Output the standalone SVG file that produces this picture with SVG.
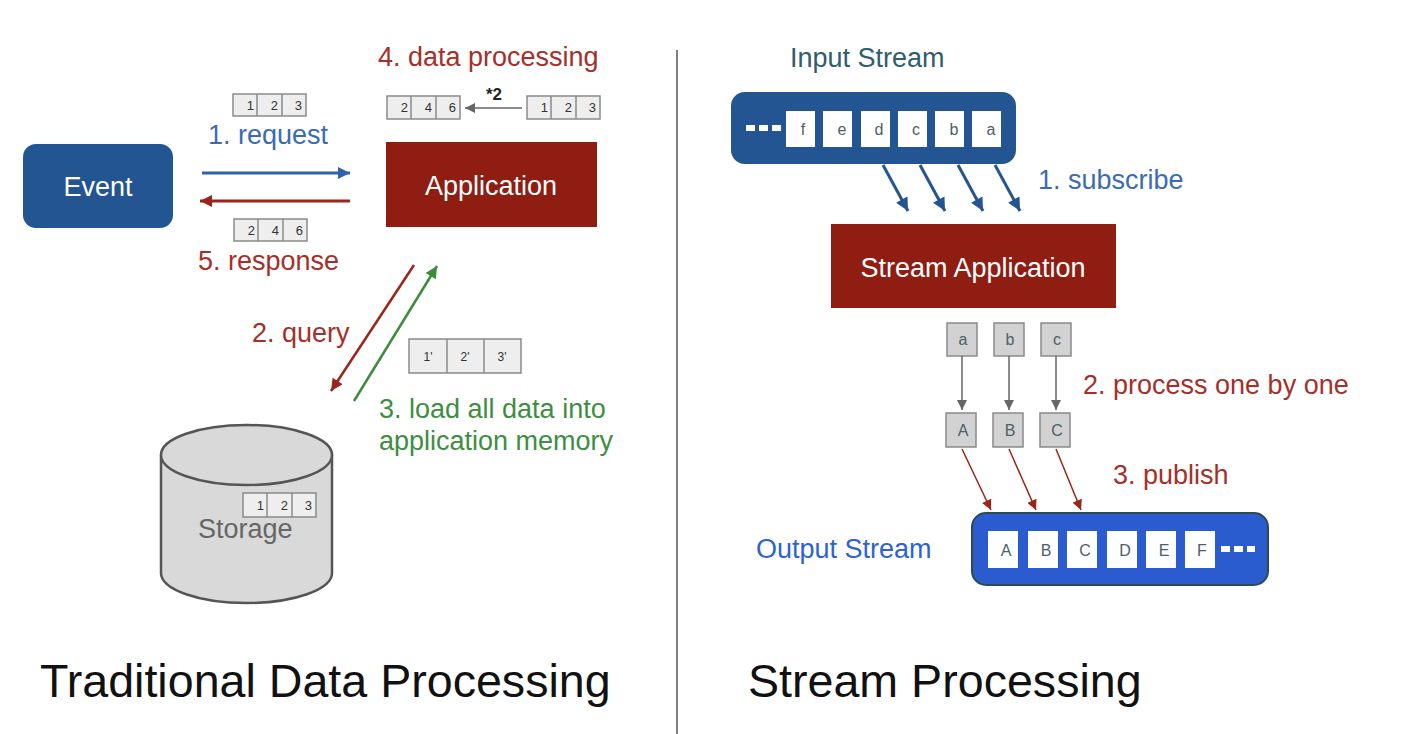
<svg xmlns="http://www.w3.org/2000/svg" width="1402" height="734" viewBox="0 0 1402 734">
<style>
text{font-family:"Liberation Sans",Arial,sans-serif}
.lbl{font-size:27px}
.red{fill:#a5302a}
.blue{fill:#3b6cb3}
.green{fill:#3e8e41}
.wt{fill:#ffffff;font-size:27px;text-anchor:middle}
.cell{fill:#eeeeee;stroke:#8a8a8a;stroke-width:1.5}
.dig{font-size:13px;fill:#333;text-anchor:end}
.gbox{fill:#d2d2d2;stroke:#8a8a8a;stroke-width:1.5}
.wbox{fill:#ffffff}
.let{font-size:16px;fill:#4a6168;text-anchor:middle}
.title{font-size:46.6px;fill:#111}
</style>
<defs>
<marker id="mBlue" viewBox="0 0 10 10" refX="10" refY="5" markerWidth="15" markerHeight="12" markerUnits="userSpaceOnUse" orient="auto"><path d="M0,0 L10,5 L0,10 z" fill="#2f62ac"/></marker>
<marker id="mRed" viewBox="0 0 10 10" refX="10" refY="5" markerWidth="15" markerHeight="12" markerUnits="userSpaceOnUse" orient="auto"><path d="M0,0 L10,5 L0,10 z" fill="#9a2519"/></marker>
<marker id="mGreen" viewBox="0 0 10 10" refX="10" refY="5" markerWidth="15" markerHeight="12" markerUnits="userSpaceOnUse" orient="auto"><path d="M0,0 L10,5 L0,10 z" fill="#3d8b3d"/></marker>
<marker id="mDBlue" viewBox="0 0 10 10" refX="10" refY="5" markerWidth="15" markerHeight="13" markerUnits="userSpaceOnUse" orient="auto"><path d="M0,0 L10,5 L0,10 z" fill="#245591"/></marker>
<marker id="mGray" viewBox="0 0 10 10" refX="10" refY="5" markerWidth="12" markerHeight="10" markerUnits="userSpaceOnUse" orient="auto"><path d="M0,0 L10,5 L0,10 z" fill="#666666"/></marker>
<marker id="mRedS" viewBox="0 0 10 10" refX="10" refY="5" markerWidth="12" markerHeight="10" markerUnits="userSpaceOnUse" orient="auto"><path d="M0,0 L10,5 L0,10 z" fill="#9a2519"/></marker>
</defs>
<rect width="1402" height="734" fill="#ffffff"/>

<line x1="677" y1="50" x2="677" y2="734" stroke="#808080" stroke-width="2"/>

<!-- Left side -->
<g id="event">
<rect x="23" y="144" width="150" height="84" rx="13" fill="#235592"/>
<text class="wt" x="98" y="196">Event</text>
</g>
<g id="application">
<rect x="386" y="142" width="211" height="85" fill="#8f1d12"/>
<text class="wt" x="491" y="195">Application</text>
</g>
<g id="storage">
<path d="M161,455 L161,573 A85.5,30 0 0 0 332,573 L332,455" fill="#d9d9d9" stroke="#555" stroke-width="2.5"/>
<ellipse cx="246.5" cy="455" rx="85.5" ry="30" fill="#d9d9d9" stroke="#555" stroke-width="2.5"/>
<g id="storage-data">
<rect class="cell" x="243" y="493" width="73" height="24"/>
<line x1="267" y1="493" x2="267" y2="517" stroke="#8a8a8a" stroke-width="1.5"/>
<line x1="292" y1="493" x2="292" y2="517" stroke="#8a8a8a" stroke-width="1.5"/>
<text class="dig" x="264" y="510">1</text><text class="dig" x="288" y="510">2</text><text class="dig" x="312" y="510">3</text>
</g>
<text x="198" y="538" font-size="27" fill="#666666">Storage</text>
</g>

<g id="data-request">
<rect class="cell" x="233" y="94" width="73" height="22"/>
<line x1="257" y1="94" x2="257" y2="116" stroke="#8a8a8a" stroke-width="1.5"/>
<line x1="282" y1="94" x2="282" y2="116" stroke="#8a8a8a" stroke-width="1.5"/>
<text class="dig" x="254" y="110">1</text><text class="dig" x="278" y="110">2</text><text class="dig" x="302" y="110">3</text>
</g>
<g id="data-response">
<rect class="cell" x="234" y="219" width="73" height="22"/>
<line x1="258" y1="219" x2="258" y2="241" stroke="#8a8a8a" stroke-width="1.5"/>
<line x1="283" y1="219" x2="283" y2="241" stroke="#8a8a8a" stroke-width="1.5"/>
<text class="dig" x="255" y="235">2</text><text class="dig" x="279" y="235">4</text><text class="dig" x="303" y="235">6</text>
</g>
<g id="data-out">
<rect class="cell" x="387" y="96" width="73" height="23"/>
<line x1="411" y1="96" x2="411" y2="119" stroke="#8a8a8a" stroke-width="1.5"/>
<line x1="436" y1="96" x2="436" y2="119" stroke="#8a8a8a" stroke-width="1.5"/>
<text class="dig" x="408" y="112">2</text><text class="dig" x="432" y="112">4</text><text class="dig" x="456" y="112">6</text>
</g>
<g id="data-in">
<rect class="cell" x="527" y="96" width="73" height="23"/>
<line x1="551" y1="96" x2="551" y2="119" stroke="#8a8a8a" stroke-width="1.5"/>
<line x1="576" y1="96" x2="576" y2="119" stroke="#8a8a8a" stroke-width="1.5"/>
<text class="dig" x="548" y="112">1</text><text class="dig" x="572" y="112">2</text><text class="dig" x="596" y="112">3</text>
</g>
<g id="data-loaded">
<rect class="cell" x="409" y="339" width="112" height="34"/>
<line x1="447" y1="339" x2="447" y2="373" stroke="#8a8a8a" stroke-width="1.5"/>
<line x1="484" y1="339" x2="484" y2="373" stroke="#8a8a8a" stroke-width="1.5"/>
<text x="428" y="361" font-size="12" fill="#333" text-anchor="middle">1'</text>
<text x="465" y="361" font-size="12" fill="#333" text-anchor="middle">2'</text>
<text x="502" y="361" font-size="12" fill="#333" text-anchor="middle">3'</text>
</g>

<g id="connectors-left">
<line x1="202" y1="173" x2="350" y2="173" stroke="#2f62ac" stroke-width="3" marker-end="url(#mBlue)"/>
<line x1="350" y1="201" x2="200" y2="201" stroke="#9a2519" stroke-width="3" marker-end="url(#mRed)"/>
<line x1="414" y1="265" x2="331" y2="391" stroke="#9a2519" stroke-width="2.5" marker-end="url(#mRed)"/>
<line x1="354" y1="401" x2="437" y2="266" stroke="#3d8b3d" stroke-width="2.5" marker-end="url(#mGreen)"/>
<line x1="522" y1="108" x2="465" y2="108" stroke="#666666" stroke-width="1.5" marker-end="url(#mGray)"/>
</g>

<text class="lbl red" x="378" y="66">4. data processing</text>
<text x="486" y="100" font-size="17" font-weight="bold" fill="#222">*2</text>
<text class="lbl blue" x="208" y="144">1. request</text>
<text class="lbl red" x="198" y="270">5. response</text>
<text class="lbl red" x="252" y="342">2. query</text>
<text class="lbl green" x="379" y="418">3. load all data into</text>
<text class="lbl green" x="379" y="450">application memory</text>
<text class="title" x="40" y="697">Traditional Data Processing</text>

<!-- Right side -->
<g id="input-stream">
<rect x="731" y="92" width="285" height="72" rx="14" fill="#235592"/>
<rect x="746" y="125" width="9" height="6" fill="#fff"/><rect x="759" y="125" width="9" height="6" fill="#fff"/><rect x="772" y="125" width="9" height="6" fill="#fff"/>
<rect class="wbox" x="786" y="111" width="29" height="36"/><text class="let" x="803" y="135">f</text>
<rect class="wbox" x="823" y="111" width="29" height="36"/><text class="let" x="842" y="135">e</text>
<rect class="wbox" x="861" y="111" width="29" height="36"/><text class="let" x="879" y="135">d</text>
<rect class="wbox" x="898" y="111" width="29" height="36"/><text class="let" x="916" y="135">c</text>
<rect class="wbox" x="935" y="111" width="29" height="36"/><text class="let" x="954" y="135">b</text>
<rect class="wbox" x="972" y="111" width="29" height="36"/><text class="let" x="991" y="135">a</text>
</g>
<text x="790" y="67" font-size="27" fill="#2f5d6c">Input Stream</text>

<g id="stream-application">
<rect x="831" y="224" width="285" height="84" fill="#8f1d12"/>
<text class="wt" x="973" y="277">Stream Application</text>
</g>

<g id="items-in">
<rect class="gbox" x="947" y="323" width="30" height="33"/><text class="let" x="963" y="345">a</text>
<rect class="gbox" x="994" y="323" width="30" height="33"/><text class="let" x="1010" y="345">b</text>
<rect class="gbox" x="1041" y="323" width="30" height="33"/><text class="let" x="1057" y="345">c</text>
</g>
<g id="items-out">
<rect class="gbox" x="946" y="413" width="30" height="34"/><text class="let" x="963" y="436">A</text>
<rect class="gbox" x="993" y="413" width="30" height="34"/><text class="let" x="1010" y="436">B</text>
<rect class="gbox" x="1040" y="413" width="30" height="34"/><text class="let" x="1057" y="436">C</text>
</g>

<g id="output-stream">
<rect x="972" y="513" width="296" height="72" rx="14" fill="#2a5ccf" stroke="#2b4a52" stroke-width="2"/>
<rect class="wbox" x="988" y="531" width="30" height="37"/><text class="let" x="1006" y="556">A</text>
<rect class="wbox" x="1028" y="531" width="30" height="37"/><text class="let" x="1046" y="556">B</text>
<rect class="wbox" x="1067" y="531" width="30" height="37"/><text class="let" x="1085" y="556">C</text>
<rect class="wbox" x="1107" y="531" width="30" height="37"/><text class="let" x="1125" y="556">D</text>
<rect class="wbox" x="1146" y="531" width="30" height="37"/><text class="let" x="1164" y="556">E</text>
<rect class="wbox" x="1185" y="531" width="30" height="37"/><text class="let" x="1202" y="556">F</text>
<rect x="1221" y="546" width="9" height="6" fill="#fff"/><rect x="1234" y="546" width="9" height="6" fill="#fff"/><rect x="1247" y="546" width="8" height="6" fill="#fff"/>
</g>
<text x="756" y="558" font-size="27" fill="#2d62d2">Output Stream</text>

<g id="connectors-right">
<line x1="883" y1="165" x2="908" y2="211" stroke="#245591" stroke-width="3" marker-end="url(#mDBlue)"/>
<line x1="920" y1="165" x2="945" y2="211" stroke="#245591" stroke-width="3" marker-end="url(#mDBlue)"/>
<line x1="958" y1="165" x2="983" y2="211" stroke="#245591" stroke-width="3" marker-end="url(#mDBlue)"/>
<line x1="995" y1="165" x2="1020" y2="211" stroke="#245591" stroke-width="3" marker-end="url(#mDBlue)"/>
<line x1="962" y1="356" x2="962" y2="410" stroke="#666666" stroke-width="1.5" marker-end="url(#mGray)"/>
<line x1="1009" y1="356" x2="1009" y2="410" stroke="#666666" stroke-width="1.5" marker-end="url(#mGray)"/>
<line x1="1056" y1="356" x2="1056" y2="410" stroke="#666666" stroke-width="1.5" marker-end="url(#mGray)"/>
<line x1="962" y1="449" x2="991" y2="510" stroke="#9a2519" stroke-width="1.5" marker-end="url(#mRedS)"/>
<line x1="1009" y1="449" x2="1036" y2="510" stroke="#9a2519" stroke-width="1.5" marker-end="url(#mRedS)"/>
<line x1="1056" y1="449" x2="1081" y2="510" stroke="#9a2519" stroke-width="1.5" marker-end="url(#mRedS)"/>
</g>

<text class="lbl blue" x="1038" y="189">1. subscribe</text>
<text class="lbl red" x="1083" y="394">2. process one by one</text>
<text class="lbl red" x="1113" y="484">3. publish</text>
<text class="title" x="748" y="697">Stream Processing</text>
</svg>
